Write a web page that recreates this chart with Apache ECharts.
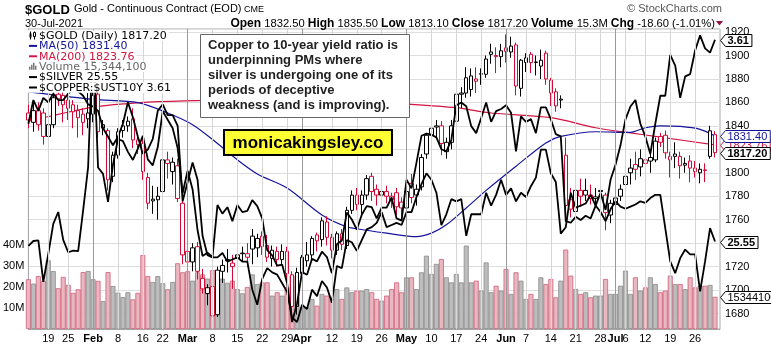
<!DOCTYPE html>
<html>
<head>
<meta charset="utf-8">
<script src="https://cdn.jsdelivr.net/npm/echarts@6/dist/echarts.min.js"></script>
<style>
  html, body { margin: 0; padding: 0; background: #fff; }
  #chart { width: 771px; height: 345px; }
</style>
</head>
<body>
<div id="chart"></div>
<script>
// ---- trading sessions shown (Jan 12 .. Jul 30, 2021) ----
const sessionDays = {
  '01': [12,13,14,15,19,20,21,22,25,26,27,28,29],
  '02': [1,2,3,4,5,8,9,10,11,12,16,17,18,19,22,23,24,25,26],
  '03': [1,2,3,4,5,8,9,10,11,12,15,16,17,18,19,22,23,24,25,26,29,30,31],
  '04': [1,5,6,7,8,9,12,13,14,15,16,19,20,21,22,23,26,27,28,29,30],
  '05': [3,4,5,6,7,10,11,12,13,14,17,18,19,20,21,24,25,26,27,28],
  '06': [1,2,3,4,7,8,9,10,11,14,15,16,17,18,21,22,23,24,25,28,29,30],
  '07': [1,2,6,7,8,9,12,13,14,15,16,19,20,21,22,23,26,27,28,29,30]
};
const dates = [];
Object.keys(sessionDays).forEach(m => sessionDays[m].forEach(d => dates.push('2021-' + m + '-' + String(d).padStart(2, '0'))));

// ---- gold daily OHLC ----
const opens = [
  1851,1843,1853,1851,1831,1841,1867,1866,1862,1858,
  1853,1850,1846,1850,1867,1841,1836,1797,1815,1836,
  1840,1846,1828,1825,1796,1777.5,1777,1784,1811,1801,
  1806,1774,1733,1724,1737,1710,1697,1703,1679,1716,
  1726,1723,1727,1731,1731,1746,1736,1746,1738,1727,
  1733,1726,1733,1713,1686,1714,1725,1730,1747,1743,
  1758,1745,1734,1748,1738,1768,1781,1773,1781,1797,
  1786,1781,1784,1780,1783,1775,1770,1791,1781,1788,
  1816,1832,1839,1840,1818,1826,1844,1867,1868,1871,
  1880,1884,1884,1901,1900,1899,1906.5,1903,1909,1872,
  1894,1901,1894,1891,1902,1879,1869,1862,1815,1777,
  1767,1785,1781,1781,1778,1785,1781,1764,1773,1780,
  1790,1800,1807,1805,1811,1810,1811,1831,1832,1814,
  1816,1814,1806.5,1810,1804,1800,1802.5,1814,1832.5
];
const highs = [
  1858,1862,1860,1855,1858,1870,1875,1872,1866,1862,
  1858,1855,1868,1876,1869,1845,1838,1818,1838,1845,
  1848,1855,1832,1829,1800,1789,1788,1813,1818,1813,
  1812,1776,1738,1740,1741,1718,1705,1708,1720,1726,
  1735,1730,1735,1737,1740,1752,1748,1750,1747,1738,
  1737,1739,1737,1716,1719,1730,1741,1746,1749,1762,
  1763,1748,1750,1752,1771,1785,1787,1785,1798,1800,
  1790,1787,1789,1783,1787,1779,1789,1799,1790,1816,
  1834,1845,1845,1844,1830,1845,1870,1873,1890,1889,
  1890,1889,1900,1910,1907,1910,1918,1916,1911,1897,
  1902,1903,1900,1905,1904,1881,1872,1866,1830,1787,
  1791,1795,1795,1790,1787,1790,1783,1777,1782,1790,
  1816,1812,1818,1820,1814,1820,1830,1834,1836,1818,
  1826,1818,1813,1815,1810,1808,1808,1840,1835.5
];
const lows = [
  1838,1835,1836,1824,1804,1838,1857,1843,1845,1838,
  1830,1832,1838,1843,1830,1832,1785,1792,1812,1830,
  1835,1821,1816,1794,1769,1765,1760,1781,1795,1790,
  1775,1722,1717,1716,1709,1697,1687,1673,1677,1706,
  1715,1701,1718,1724,1720,1722,1728,1730,1724,1720,
  1720,1721,1706,1678,1679,1711,1720,1725,1733,1737,
  1738,1727,1730,1734,1735,1765,1768,1765,1777,1776,
  1772,1773,1774,1770,1764,1763,1766,1774,1772,1785,
  1812,1827,1830,1815,1812,1820,1841,1855,1864,1865,
  1868,1875,1881,1893,1885,1890,1894,1898,1866,1865,
  1886,1885,1883,1880,1875,1857,1852,1855,1765,1762,
  1761,1771,1776,1773,1772,1774,1751,1757,1764,1776,
  1788,1790,1794,1797,1792,1800,1809,1822,1812,1796,
  1804,1795,1800,1792,1796,1791,1792,1812,1813.1
];
const closes = [
  1845,1853,1841,1831,1841,1864,1863,1858,1855,1852,
  1847,1843,1851,1866,1835,1838,1794,1815,1835,1840,
  1844,1828,1824,1801,1774,1776,1780,1811,1808,1809,
  1778,1730,1724,1736,1716,1701,1702,1678,1717,1721,
  1725,1720,1730,1731.5,1728,1735,1744,1737,1728,1734,
  1726,1733,1714,1686,1715,1728,1730,1744,1742,1759,
  1745,1734,1748,1739,1768,1781,1773,1781,1795,1784,
  1781,1784,1780,1777,1771,1770,1784,1779,1786,1813,
  1832,1838,1840,1825,1826,1840,1867,1868,1881,1882.6,
  1878,1884.5,1897,1903,1899,1904,1903.5,1908,1874,1896,
  1898,1894,1894.5,1896,1880,1868,1857,1862.8,1772,1769,
  1785,1780,1785,1778,1779.5,1784,1766,1774,1778.5,1786,
  1797,1804,1803,1812,1808,1813,1827,1826,1817,1811,
  1814,1806,1808,1804,1801,1803,1802,1835.8,1817.2
];
// ---- volume, millions of contracts ----
const volumes = [
  23.7,21.6,25.2,22.9,32.7,27.6,19.4,24.8,21.0,17.2,
  18.9,27.1,27.6,23.7,22.9,13.3,27.1,20.5,17.3,15.2,
  17.5,14.1,17.2,35.2,25.2,22.4,25.2,21.8,18.9,22.4,
  31.3,27.0,27.5,23.0,27.0,26.0,24.0,28.0,26.0,24.0,
  22.0,23.0,19.0,17.0,20.0,26.0,21.4,22.2,22.2,15.9,
  17.5,15.9,19.8,25.4,20.6,10.3,10.3,14.3,11.1,16.7,
  15.9,14.3,19.0,14.3,19.8,17.5,18.3,18.3,19.0,17.5,
  14.3,13.5,15.9,19.0,22.2,17.5,24.6,24.6,19.0,27.0,
  34.9,26.2,31.0,33.3,24.6,22.2,26.2,22.2,39.7,22.2,
  23.0,18.3,31.7,17.5,20.6,18.3,28.6,16.7,27.0,23.0,
  14.3,16.7,14.3,24.6,21.4,23.8,15.1,23.0,37.8,25.4,
  19.0,16.7,17.5,15.1,15.9,15.9,23.8,16.7,16.7,20.6,
  27.8,16.7,24.6,18.3,19.8,24.6,21.4,17.5,18.3,25.4,
  21.4,21.4,19.0,24.6,19.8,20.6,20.6,21.0,15.3441
];
// ---- overlays ----
const silver = [
  25.47,25.56,25.57,24.80,25.32,25.88,26.10,25.58,25.35,25.38,
  25.37,26.13,26.93,29.42,26.93,26.81,26.29,26.98,27.46,27.42,
  27.22,27.07,27.28,27.52,27.08,26.97,27.31,27.98,27.82,27.66,
  27.29,26.45,26.87,26.52,25.76,25.28,25.34,25.26,26.23,26.07,
  26.19,25.93,26.23,26.10,26.12,26.32,26.21,25.98,25.39,25.29,
  25.10,25.12,24.77,24.05,24.40,24.98,24.93,25.23,25.18,25.36,
  25.26,24.96,25.50,25.57,26.09,25.96,25.77,26.05,26.21,26.19,
  25.98,26.18,26.18,26.37,25.98,25.94,26.70,26.54,27.02,27.52,
  27.56,27.54,27.49,27.27,27.23,27.44,28.09,28.14,28.07,27.70,
  27.57,27.85,28.14,27.78,27.98,28.02,28.09,27.95,27.23,27.88,
  27.78,27.83,27.57,28.05,28.05,27.83,27.55,27.51,25.93,25.90,
  26.01,25.95,26.03,25.98,26.22,26.10,25.93,26.15,26.30,26.20,
  26.16,26.20,26.24,26.30,26.27,26.36,26.42,26.42,25.80,25.18,
  24.96,25.24,25.40,25.31,25.31,24.62,25.18,25.80,25.55
];
const copperYield = [
  3.22,3.33,3.28,3.34,3.32,3.36,3.33,3.33,3.36,3.38,
  3.37,3.35,3.31,3.30,3.28,3.20,3.16,3.12,3.16,3.22,
  3.32,3.25,3.16,3.08,3.10,3.15,3.28,3.31,3.26,3.26,
  3.21,2.86,2.95,3.04,2.96,2.70,2.61,2.60,2.60,2.62,
  2.58,2.59,2.60,2.58,2.58,2.45,2.38,2.50,2.55,2.53,
  2.52,2.48,2.44,2.32,2.30,2.38,2.36,2.45,2.42,2.49,
  2.46,2.39,2.56,2.55,2.68,2.67,2.63,2.68,2.73,2.74,
  2.76,2.81,2.74,2.75,2.76,2.75,2.81,2.81,2.88,2.94,
  2.99,2.96,2.90,2.75,2.80,2.87,2.86,2.87,2.70,2.80,
  2.80,2.80,2.90,2.84,2.89,2.96,2.89,2.92,2.86,2.90,
  2.88,2.93,2.97,3.10,3.10,2.99,2.95,2.71,2.74,2.90,
  2.83,2.84,2.85,2.89,2.84,2.90,2.82,2.96,3.03,3.12,
  3.24,3.30,3.33,3.22,3.16,3.08,3.22,3.35,3.35,3.54,
  3.49,3.34,3.44,3.45,3.56,3.63,3.57,3.55,3.61
];
// moving averages: [session index, value]
const ma50 = [[0,1869],[13,1862.6],[22,1859.8],[28,1851],[33,1841],[38,1825],[42,1811],[46,1799],[52,1787],[59,1764],[64,1754],[68,1751],[72,1748.5],[78,1745.6],[81,1748.5],[84,1755.6],[88,1770],[92,1785],[98,1805.6],[104,1825.5],[107,1831],[114,1835],[121,1834.5],[124,1838.4],[127,1840],[131,1839.5],[135,1837],[138,1831.4]];
const ma200 = [[0,1844],[6,1849.8],[13,1856],[20,1859],[26,1860.6],[36,1861.8],[50,1862],[65,1861],[77,1858.4],[86,1855.5],[93,1851],[105,1847],[114,1838.4],[121,1834],[127,1830.4],[138,1823.76]];

// ---- axis labels ----
const dateTicks = [
  ['2021-01-19','19'],['2021-01-25','25'],['2021-02-01','Feb'],['2021-02-08','8'],['2021-02-16','16'],['2021-02-22','22'],
  ['2021-03-01','Mar'],['2021-03-08','8'],['2021-03-15','15'],['2021-03-22','22'],['2021-03-29','29'],
  ['2021-04-01','Apr'],['2021-04-12','12'],['2021-04-19','19'],['2021-04-26','26'],
  ['2021-05-03','May'],['2021-05-10','10'],['2021-05-17','17'],['2021-05-24','24'],
  ['2021-06-01','Jun'],['2021-06-07','7'],['2021-06-14','14'],['2021-06-21','21'],['2021-06-28','28'],
  ['2021-07-01','Jul'],['2021-07-06','6'],['2021-07-12','12'],['2021-07-19','19'],['2021-07-26','26']
];
const priceTicks = [1680,1700,1720,1740,1760,1780,1800,1820,1840,1860,1880,1900,1920];
const volumeTicks = [10,20,30,40];

// ---- styling ----
const RED = '#d20a36', BLACK = '#000', NAVY = '#14149c', CRIMSON = '#d41442';
const ARIAL = '"Liberation Sans", Arial, sans-serif';
const DEJAVU = '"DejaVu Sans", Verdana, sans-serif';
const last = closes.length - 1;

const tickIndex = dateTicks.map(t => dates.indexOf(t[0]));
const tickText = {};
dateTicks.forEach((t, i) => { tickText[tickIndex[i]] = /^[A-Z]/.test(t[1]) ? '{m|' + t[1] + '}' : t[1]; });

const isDown = k => closes[k] < (k ? closes[k - 1] : opens[0]);
const candleData = closes.map((c, k) => {
  const col = isDown(k) ? RED : BLACK;
  return { value: [k, opens[k], c, lows[k], highs[k]],
           itemStyle: { color: '#fff', color0: col, borderColor: col, borderColor0: col } };
});
const volumeData = volumes.map((v, k) => ({
  value: [k, v],
  itemStyle: isDown(k) ? { color: '#e8b7bf', borderColor: '#d0607a' } : { color: '#bdbdbd', borderColor: '#8a8a8a' }
}));

const gridLines = tickIndex.map((k, i) => ({
  xAxis: k,
  lineStyle: { color: /^[A-Z]/.test(dateTicks[i][1]) ? '#9a9a9a' : '#d6d6d6', width: 1, type: 'solid' }
}));

const chart = echarts.init(document.getElementById('chart'), null, { renderer: 'canvas' });
chart.setOption({
  animation: false,
  backgroundColor: '#fff',
  grid: { left: 26, right: 51, top: 29, bottom: 16, show: true, borderColor: '#a8a8a8', borderWidth: 1 },
  xAxis: {
    type: 'value', min: 0, max: dates.length,
    axisLine: { show: true, lineStyle: { color: '#a8a8a8' } },
    axisTick: { show: false },
    splitLine: { show: false },
    axisLabel: {
      customValues: tickIndex, margin: 4, fontSize: 11, fontFamily: ARIAL, color: '#000',
      formatter: v => tickText[v] || '',
      rich: { m: { fontWeight: 'bold', fontSize: 11, fontFamily: ARIAL, color: '#000' } }
    }
  },
  yAxis: [
    { type: 'value', position: 'right', min: 1666.8, max: 1922.6, minInterval: 20, maxInterval: 20,
      axisLine: { show: true, lineStyle: { color: '#a8a8a8' } }, axisTick: { show: false },
      splitLine: { show: true, lineStyle: { color: '#dedede' } },
      axisLabel: { margin: 5, fontSize: 11, fontFamily: ARIAL, color: '#000',
        formatter: v => priceTicks.indexOf(Math.round(v * 10) / 10) >= 0 ? String(v) : '' } },
    { type: 'value', position: 'left', min: 0, max: 142.86, interval: 10,
      axisLine: { show: true, lineStyle: { color: '#a8a8a8' } }, axisTick: { show: false },
      splitLine: { show: false },
      axisLabel: { margin: 4, fontSize: 11, fontFamily: ARIAL, color: '#000',
        formatter: v => volumeTicks.indexOf(v) >= 0 ? v + 'M' : '' } },
    { type: 'value', show: false, min: 23.92, max: 29.51 },
    { type: 'value', show: false, min: 2.2675, max: 3.6597 }
  ],
  series: [
    { type: 'line', data: [], z: 0, silent: true,
      markLine: { silent: true, symbol: 'none', label: { show: false }, animation: false, data: gridLines } },
    { name: 'Volume', type: 'bar', yAxisIndex: 1, data: volumeData, barWidth: 5, z: 1,
      itemStyle: { borderWidth: 0.8 } },
    { name: 'MA200', type: 'line', data: ma200, symbol: 'none', smooth: 0.3, z: 2,
      lineStyle: { color: CRIMSON, width: 1.2 } },
    { name: 'MA50', type: 'line', data: ma50, symbol: 'none', smooth: 0.3, z: 2,
      lineStyle: { color: NAVY, width: 1.2 } },
    { name: 'Gold', type: 'candlestick', data: candleData, barWidth: 4, z: 3,
      encode: { x: 0, y: [1, 2, 3, 4] }, itemStyle: { borderWidth: 1 } },
    { name: 'Silver', type: 'line', yAxisIndex: 2, data: silver.map((v, k) => [k, v]), symbol: 'none', z: 4,
      lineStyle: { color: '#000', width: 1.8 } },
    { name: 'Copper:UST10Y', type: 'line', yAxisIndex: 3, data: copperYield.map((v, k) => [k, v]), symbol: 'none', z: 4,
      lineStyle: { color: '#000', width: 1.8 } }
  ]
});

// ---- text overlays ----
const mctx = document.createElement('canvas').getContext('2d');
const textWidth = (t, font) => { mctx.font = font; return mctx.measureText(t).width; };
const fmt2 = v => v.toFixed(2);
const volShares = Math.round(volumes[last] * 1e6);
const chg = closes[last] - closes[last - 1];
const chgPct = chg / closes[last - 1] * 100;

const g = [];
const txt = (x, y, text, font, fill, align, extra) => g.push(Object.assign({
  type: 'text', z: 200, style: { x, y, text, font, fill, align: align || 'left', verticalAlign: 'middle' }
}, extra || {}));

// title rows
txt(25, 10, '$GOLD', 'bold 13px ' + ARIAL, '#000');
txt(74, 9, 'Gold - Continuous Contract (EOD)', '11px ' + ARIAL, '#000');
txt(244, 9.5, 'CME', '9px ' + ARIAL, '#000');
txt(25, 23.5, '30-Jul-2021', '11px ' + ARIAL, '#000');
txt(722, 9, '\u00A9 StockCharts.com', '11px ' + ARIAL, '#555', 'right');
g.push({
  type: 'text', z: 200,
  style: {
    x: 715, y: 23.5, align: 'right', verticalAlign: 'middle',
    text: '{b|Open} ' + fmt2(opens[last]) + ' {b|High} ' + fmt2(highs[last]) + ' {b|Low} ' + fmt2(lows[last]) +
          ' {b|Close} ' + fmt2(closes[last]) + ' {b|Volume} ' + volumes[last].toFixed(1) + 'M' +
          ' {b|Chg} ' + fmt2(chg) + ' (' + fmt2(chgPct) + '%)',
    font: '11.2px ' + ARIAL, fill: '#000',
    rich: { b: { font: 'bold 12px ' + ARIAL, fill: '#000' } }
  }
});
g.push({ type: 'polygon', z: 200, shape: { points: [[716, 21], [723, 21], [719.5, 25.5]] }, style: { fill: '#9a1036' } });

// legend block
const legendRows = [
  { text: '$GOLD (Daily) ' + fmt2(closes[last]), color: '#000', icon: 'candle' },
  { text: 'MA(50) ' + fmt2(ma50[ma50.length - 1][1]), color: NAVY, icon: 'line' },
  { text: 'MA(200) ' + fmt2(ma200[ma200.length - 1][1]), color: CRIMSON, icon: 'line' },
  { text: 'Volume ' + volShares.toLocaleString('en-US'), color: '#666', icon: 'bars' },
  { text: '$SILVER ' + fmt2(silver[last]), color: '#000', icon: 'line' },
  { text: '$COPPER:$UST10Y ' + fmt2(copperYield[last]), color: '#000', icon: 'line' }
];
const LFONT = '11px ' + DEJAVU;
legendRows.forEach((r, i) => {
  const y = 35.5 + i * 10.4;
  const w = textWidth(r.text, LFONT);
  g.push({ type: 'rect', z: 190, shape: { x: 27, y: y - 5.2, width: w + 14, height: 10.4 }, style: { fill: '#fff' } });
  if (r.icon === 'line') {
    g.push({ type: 'line', z: 200, shape: { x1: 29, y1: y, x2: 37, y2: y }, style: { stroke: r.color, lineWidth: 2 } });
  } else if (r.icon === 'bars') {
    [[29, 3], [31, 5], [33, 7], [35, 4]].forEach(b => g.push({ type: 'rect', z: 200,
      shape: { x: b[0], y: y + 3 - b[1], width: 1.5, height: b[1] }, style: { fill: '#777' } }));
  } else {
    g.push({ type: 'line', z: 200, shape: { x1: 30.5, y1: y - 4, x2: 30.5, y2: y + 4 }, style: { stroke: '#000', lineWidth: 1 } });
    g.push({ type: 'rect', z: 200, shape: { x: 29.5, y: y - 2, width: 2, height: 4 }, style: { fill: '#000' } });
    g.push({ type: 'line', z: 200, shape: { x1: 34.5, y1: y - 4, x2: 34.5, y2: y + 4 }, style: { stroke: '#000', lineWidth: 1 } });
    g.push({ type: 'rect', z: 200, shape: { x: 33.5, y: y - 3, width: 2, height: 4 }, style: { fill: '#fff', stroke: '#000', lineWidth: 1 } });
  }
  txt(39, y + 0.5, r.text, LFONT, r.color);
});

// commentary box
g.push({ type: 'rect', z: 190, shape: { x: 200.5, y: 34.5, width: 209, height: 83 },
  style: { fill: '#fff', stroke: '#666', lineWidth: 1 } });
['Copper to 10-year yield ratio is', 'underpinning PMs where', 'silver is undergoing one of its',
 'periods of deceptive', 'weakness (and is improving).'].forEach((line, i) =>
  txt(208, 45 + i * 15.2, line, 'bold 13px ' + ARIAL, '#222'));

// site badge
g.push({ type: 'rect', z: 190, shape: { x: 224, y: 130, width: 168, height: 25 },
  style: { fill: '#ffff33', stroke: '#000', lineWidth: 2 } });
txt(308, 143, 'monicakingsley.co', 'bold 17px ' + ARIAL, '#000', 'center');

// right-edge value tags
function tag(yAxisIndex, value, text, color, bold, z) {
  const y = Math.round(chart.convertToPixel({ yAxisIndex }, value)) + 0.5;
  const font = (bold ? 'bold ' : '') + '11px ' + ARIAL;
  const w = textWidth(text, font) + 5;
  g.push({ type: 'polygon', z, shape: { points: [[720.5, y], [725.5, y - 6], [725.5 + w, y - 6], [725.5 + w, y + 6], [725.5, y + 6]] },
    style: { fill: '#fff', stroke: color, lineWidth: 1 } });
  g.push({ type: 'text', z: z + 1, style: { x: 727.5, y: y + 0.5, text, font, fill: color, align: 'left', verticalAlign: 'middle' } });
}
tag(3, copperYield[last], fmt2(copperYield[last]), '#000', true, 210);
tag(0, ma200[ma200.length - 1][1], fmt2(ma200[ma200.length - 1][1]), CRIMSON, false, 210);
tag(0, ma50[ma50.length - 1][1], fmt2(ma50[ma50.length - 1][1]), NAVY, false, 212);
tag(0, closes[last], fmt2(closes[last]), '#000', true, 214);
tag(2, silver[last], fmt2(silver[last]), '#000', true, 210);
tag(1, volumes[last], String(volShares), '#000', false, 210);

chart.setOption({ graphic: { elements: g } });
</script>
</body>
</html>
